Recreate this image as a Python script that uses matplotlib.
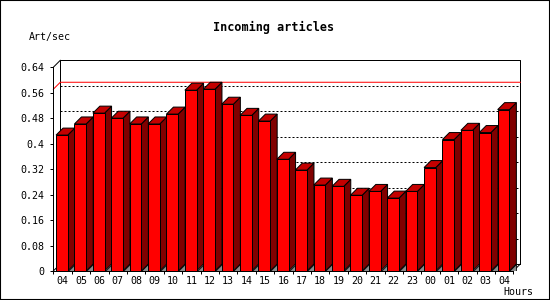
import matplotlib
matplotlib.use("Agg")
import matplotlib.pyplot as plt
from matplotlib.patches import Polygon, Rectangle

# ---- data ----
hours = ["04", "05", "06", "07", "08", "09", "10", "11", "12", "13", "14", "15",
         "16", "17", "18", "19", "20", "21", "22", "23", "00", "01", "02", "03", "04"]
art_per_sec = [0.427, 0.462, 0.496, 0.480, 0.462, 0.462, 0.493, 0.568, 0.571,
               0.524, 0.489, 0.471, 0.351, 0.317, 0.270, 0.266, 0.238, 0.250,
               0.229, 0.250, 0.325, 0.413, 0.442, 0.435, 0.507]
peak_line = 0.571
y_ticks = [0, 0.08, 0.16, 0.24, 0.32, 0.4, 0.48, 0.56, 0.64]
y_tick_labels = ["0", "0.08", "0.16", "0.24", "0.32", "0.4", "0.48", "0.56", "0.64"]
title = "Incoming articles"
y_title = "Art/sec"
x_title = "Hours"

# ---- style ----
FONT = "DejaVu Sans Mono"
PX = 0.72           # one pixel in points at dpi 100
N = len(hours)
YMAX = 0.64
DX = 7 / 18.4       # depth offset, x (slot units)
DY = 7 / 318.75     # depth offset, y (value units)
BAR_OFF = 0.15
BAR_W = 0.636
FRONT = "#ff0000"
SIDE = "#800000"
TOP = "#c40000"
SHADOW = "#8c8c8c"

fig = plt.figure(figsize=(5.5, 3), dpi=100, facecolor="white")
ax = fig.add_axes([53.3 / 550, 29 / 300, 467 / 550, 210.7 / 300])
ax.set_facecolor("white")
ax.set_xlim(0, N + DX)
ax.set_ylim(0, YMAX + DY)

# back plane: dotted grid lines
for t in y_ticks[1:-1]:
    ax.plot([DX, N + DX], [t + DY, t + DY], color="black", lw=PX,
            linestyle=(0, (2, 2)), zorder=1)

# back frame and floor edges
ax.plot([DX, DX, N + DX, N + DX], [DY, YMAX + DY, YMAX + DY, DY],
        color="black", lw=PX, zorder=1, clip_on=False)
ax.plot([0, DX], [YMAX, YMAX + DY], color="black", lw=PX, zorder=1, clip_on=False)
ax.plot([DX, N + DX], [DY, DY], color="black", lw=PX, zorder=1)
ax.plot([0, DX], [0, DY], color="black", lw=PX, zorder=1, clip_on=False)
ax.plot([N, N + DX], [0, DY], color="black", lw=PX, zorder=1, clip_on=False)

# peak line
ax.plot([0, DX, N + DX], [peak_line, peak_line + DY, peak_line + DY],
        color="red", lw=PX, zorder=1.2, clip_on=False)

# bars
lefts = [i + BAR_OFF for i in range(N)]
ax.bar(lefts, art_per_sec, width=BAR_W, align="edge", color=FRONT,
       edgecolor="black", linewidth=PX, zorder=3)
for l, v in zip(lefts, art_per_sec):
    r = l + BAR_W
    ax.add_patch(Polygon([(r, 0), (r + DX, 0), (r + DX, DY)], closed=True,
                         facecolor=SHADOW, edgecolor="black", lw=PX * 0.8, zorder=1.5))
    ax.add_patch(Polygon([(r, 0), (r + DX, DY), (r + DX, v + DY), (r, v)], closed=True,
                         facecolor=SIDE, edgecolor="black", lw=PX, zorder=2))
    ax.add_patch(Polygon([(l, v), (r, v), (r + DX, v + DY), (l + DX, v + DY)], closed=True,
                         facecolor=TOP, edgecolor="black", lw=PX, zorder=2))

# axes / ticks
for s in ["top", "right"]:
    ax.spines[s].set_visible(False)
ax.spines["left"].set_bounds(0, YMAX)
ax.spines["bottom"].set_bounds(0, N)
for s in ["left", "bottom"]:
    ax.spines[s].set_linewidth(PX)
    ax.spines[s].set_zorder(4)

ax.set_yticks(y_ticks)
ax.set_yticklabels(y_tick_labels, fontfamily=FONT, fontsize=7.2)
ax.tick_params(axis="y", length=2.4, width=PX, pad=4)

ax.set_xticks([i + 0.5 for i in range(N)])
ax.set_xticklabels(hours, fontfamily=FONT, fontsize=7.2)
ax.set_xticks(list(range(N + 1)), minor=True)
ax.tick_params(axis="x", which="major", length=0, pad=3.5)
ax.tick_params(axis="x", which="minor", length=2.4, width=PX)

# texts
fig.text(274 / 550, 1 - 27.3 / 300, title, ha="center", va="center",
         fontfamily=FONT, fontweight="bold", fontsize=8.5)
fig.text(29.3 / 550, 1 - 36.7 / 300, y_title, ha="left", va="center",
         fontfamily=FONT, fontsize=7.2)
fig.text(533.3 / 550, 1 - 292.3 / 300, x_title, ha="right", va="center",
         fontfamily=FONT, fontsize=7.2)

# outer border
fig.patches.append(Rectangle((0, 0), 1, 1, transform=fig.transFigure, fill=False,
                             edgecolor="black", linewidth=1.5))

fig.savefig("out.png", dpi=100, facecolor="white")
